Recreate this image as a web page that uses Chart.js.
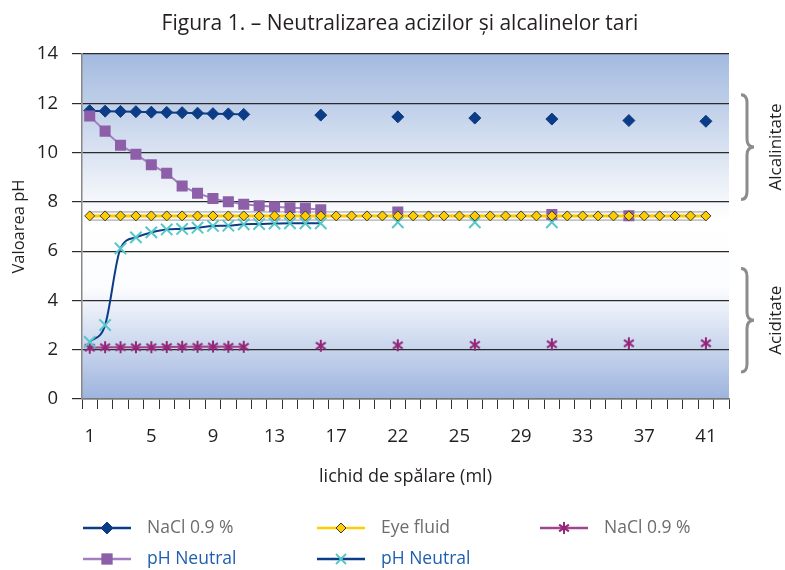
<!DOCTYPE html>
<html>
<head>
<meta charset="utf-8">
<script src="https://cdn.jsdelivr.net/npm/chart.js@4"></script>
<style>
  body { margin: 0; background: #fff; }
  #wrap { width: 785px; height: 570px; }
</style>
</head>
<body>
<div id="wrap"><canvas id="myChart"></canvas></div>
<script>
// 42 categories, only every 4th one gets a label
const categories = ["1","2","3","4","5","6","7","8","9","10","11","12","13","14","15","16","17","18","19","20","21",
  "22","23","24","25","26","27","28","29","30","31","32","33","34","35","36","37","38","39","40","41","42"];
const tickLabels = ["1", "5", "9", "13", "17", "22", "25", "29", "33", "37", "41"];

const naclDiamond = [11.7, 11.68, 11.67, 11.66, 11.64, 11.63, 11.62, 11.6, 11.58, 11.57, 11.55,
  null, null, null, null, 11.52, null, null, null, null, 11.45, null, null, null, null, 11.4,
  null, null, null, null, 11.36, null, null, null, null, 11.3, null, null, null, null, 11.27, null];

const eyeFluid = [7.43, 7.43, 7.43, 7.43, 7.43, 7.43, 7.43, 7.43, 7.43, 7.43, 7.43, 7.43, 7.43, 7.43,
  7.43, 7.43, 7.43, 7.43, 7.43, 7.43, 7.43, 7.43, 7.43, 7.43, 7.43, 7.43, 7.43, 7.43, 7.43, 7.43,
  7.43, 7.43, 7.43, 7.43, 7.43, 7.43, 7.43, 7.43, 7.43, 7.43, 7.43, null];

const naclStar = [2.08, 2.1, 2.1, 2.1, 2.1, 2.11, 2.12, 2.12, 2.13, 2.12, 2.12,
  null, null, null, null, 2.16, null, null, null, null, 2.18, null, null, null, null, 2.2,
  null, null, null, null, 2.22, null, null, null, null, 2.26, null, null, null, null, 2.26, null];

const phSquare = [11.48, 10.87, 10.3, 9.93, 9.51, 9.16, 8.64, 8.35, 8.14, 8.0, 7.9, 7.84, 7.8, 7.76, 7.74, 7.68,
  null, null, null, null, 7.59, null, null, null, null, null, null, null, null, null, 7.49,
  null, null, null, null, 7.44, null, null, null, null, null, null];

const phCross = [2.32, 3.0, 6.11, 6.56, 6.76, 6.88, 6.9, 6.95, 7.02, 7.03, 7.09, 7.1, 7.12, 7.13, 7.13, 7.13,
  null, null, null, null, 7.17, null, null, null, null, 7.17, null, null, null, null, 7.17,
  null, null, null, null, null, null, null, null, null, null, null];

const bands = [
  { label: "Alcalinitate", from: 12.35, to: 8.1 },
  { label: "Aciditate", from: 5.3, to: 1.1 },
];

const FONT = "'Open Sans', 'Noto Sans', sans-serif";
const TITLE = "Figura 1. – Neutralizarea acizilor și alcalinelor tari";
const ctx = document.getElementById("myChart");

// six-armed asterisk marker
function asterisk(size, color) {
  const c = document.createElement("canvas");
  c.width = size; c.height = size;
  const g = c.getContext("2d");
  const r = size / 2 - 1;
  g.strokeStyle = color;
  g.lineWidth = 2;
  g.translate(size / 2, size / 2);
  [90, 35, -35].forEach((deg) => {
    const a = deg * Math.PI / 180;
    g.beginPath();
    g.moveTo(-Math.cos(a) * r, -Math.sin(a) * r);
    g.lineTo(Math.cos(a) * r, Math.sin(a) * r);
    g.stroke();
  });
  return c;
}
const starMark = asterisk(14, "#93287a");

const plotBackground = {
  id: "plotBackground",
  beforeDraw(chart) {
    const { ctx, chartArea: a } = chart;
    const g = ctx.createLinearGradient(0, a.top, 0, a.bottom);
    g.addColorStop(0, "#a3badf");
    g.addColorStop(0.48, "#ffffff");
    g.addColorStop(0.68, "#fbfcfe");
    g.addColorStop(1, "#9db4de");
    ctx.save();
    ctx.fillStyle = g;
    ctx.fillRect(a.left, a.top, a.right - a.left, a.bottom - a.top);
    ctx.fillStyle = "#231f20";
    ctx.font = "21px " + FONT;
    ctx.textAlign = "center";
    ctx.textBaseline = "alphabetic";
    ctx.fillText(TITLE, 400, 30);
    ctx.restore();
  },
};

// grey band behind the yellow "Eye fluid" line
const eyeBand = {
  id: "eyeBand",
  beforeDatasetsDraw(chart) {
    const meta = chart.getDatasetMeta(1);
    const pts = meta.data.filter((p, i) => eyeFluid[i] !== null);
    if (!pts.length) return;
    const c = chart.ctx;
    c.save();
    c.lineCap = "butt";
    c.strokeStyle = "#c4c4c4";
    c.lineWidth = 10;
    c.beginPath();
    c.moveTo(pts[0].x, pts[0].y);
    c.lineTo(pts[pts.length - 1].x, pts[pts.length - 1].y);
    c.stroke();
    c.strokeStyle = "#f6f6f6";
    c.lineWidth = 6.5;
    c.stroke();
    c.restore();
  },
};

// curly braces and labels on the right
const sideBraces = {
  id: "sideBraces",
  afterDraw(chart) {
    const c = chart.ctx;
    const y = chart.scales.y;
    c.save();
    bands.forEach((b) => {
      const y0 = y.getPixelForValue(b.from);
      const y1 = y.getPixelForValue(b.to);
      const m = (y0 + y1) / 2;
      const x0 = 741, x1 = 747, x2 = 754;
      c.strokeStyle = "#8c8c8c";
      c.lineWidth = 3;
      c.beginPath();
      c.moveTo(x0, y0);
      c.quadraticCurveTo(x1, y0, x1, y0 + 8);
      c.lineTo(x1, m - 8);
      c.quadraticCurveTo(x1, m, x2, m);
      c.quadraticCurveTo(x1, m, x1, m + 8);
      c.lineTo(x1, y1 - 8);
      c.quadraticCurveTo(x1, y1, x0, y1);
      c.stroke();

      c.save();
      c.translate(776, m);
      c.rotate(-Math.PI / 2);
      c.fillStyle = "#231f20";
      c.font = "17px " + FONT;
      c.textAlign = "center";
      c.textBaseline = "middle";
      c.fillText(b.label, 0, 0);
      c.restore();
    });
    c.restore();
  },
};

// legend laid out in fixed columns like the original
const gridLegend = {
  id: "gridLegend",
  afterDraw(chart) {
    const c = chart.ctx;
    const cols = [83, 317, 540];
    const rows = [528, 559];
    const colors = ["#6d6d6d", "#1f5fae"];
    chart.data.datasets.forEach((ds, i) => {
      const r = i < 3 ? 0 : 1;
      const x = cols[r === 0 ? i : i - 3];
      const yy = rows[r];
      c.save();
      c.strokeStyle = ds.borderColor;
      c.lineWidth = 2.5;
      c.beginPath();
      c.moveTo(x, yy);
      c.lineTo(x + 48, yy);
      c.stroke();
      c.fillStyle = ds.pointBackgroundColor;
      c.strokeStyle = ds.pointBorderColor;
      c.lineWidth = ds.pointBorderWidth;
      Chart.helpers.drawPoint(c, {
        pointStyle: ds.pointStyle,
        radius: ds.legendRadius,
        rotation: 0,
        borderWidth: ds.pointBorderWidth,
      }, x + 24, yy);
      c.fillStyle = colors[r];
      c.font = "17.5px " + FONT;
      c.textBaseline = "middle";
      c.fillText(ds.label, x + 64, yy);
      c.restore();
    });
  },
};

new Chart(ctx, {
  type: "line",
  data: {
    labels: categories,
    datasets: [
      {
        label: "NaCl 0.9 %",
        data: naclDiamond,
        borderColor: "#0c3c85",
        borderWidth: 2,
        pointStyle: "rectRot",
        pointRadius: 6,
        legendRadius: 6,
        pointBackgroundColor: "#0c3c85",
        pointBorderColor: "#0c3c85",
        pointBorderWidth: 1,
        spanGaps: false,
        order: 3,
      },
      {
        label: "Eye fluid",
        data: eyeFluid,
        borderColor: "#ffcc00",
        borderWidth: 3,
        pointStyle: "rectRot",
        pointRadius: 5,
        legendRadius: 5,
        pointBackgroundColor: "#ffcc00",
        pointBorderColor: "#3a3a3a",
        pointBorderWidth: 1,
        order: 0,
      },
      {
        label: "NaCl 0.9 %",
        data: naclStar,
        borderColor: "#a0468a",
        borderWidth: 2,
        pointStyle: starMark,
        pointRadius: 7,
        legendRadius: 7,
        pointBackgroundColor: "#93287a",
        pointBorderColor: "#93287a",
        pointBorderWidth: 2,
        spanGaps: false,
        order: 3,
      },
      {
        label: "pH Neutral",
        data: phSquare,
        borderColor: "#a37fc2",
        borderWidth: 2,
        pointStyle: "rect",
        pointRadius: 7.8,
        legendRadius: 8,
        pointBackgroundColor: "#8c5fa8",
        pointBorderColor: "#8c5fa8",
        pointBorderWidth: 0,
        spanGaps: false,
        order: 1,
      },
      {
        label: "pH Neutral",
        data: phCross,
        borderColor: "#0c3c85",
        borderWidth: 2,
        cubicInterpolationMode: "monotone",
        pointStyle: "crossRot",
        pointRadius: 8,
        legendRadius: 7,
        pointBackgroundColor: "#55c7c9",
        pointBorderColor: "#55c7c9",
        pointBorderWidth: 2,
        spanGaps: false,
        order: 2,
      },
    ],
  },
  options: {
    responsive: true,
    maintainAspectRatio: false,
    animation: false,
    layout: { padding: { left: 0, right: 56, top: 54, bottom: 71 } },
    plugins: {
      legend: { display: false },
      tooltip: { enabled: false },
    },
    scales: {
      x: {
        offset: true,
        afterFit: (s) => { s.height = 100; },
        grid: {
          offset: true,
          drawOnChartArea: false,
          drawTicks: true,
          tickLength: 10,
          color: "#333",
        },
        border: { color: "#777", width: 1.5 },
        ticks: {
          autoSkip: false,
          maxRotation: 0,
          padding: 17,
          color: "#231f20",
          font: { family: FONT, size: 18.5 },
          callback: (v, i) => (i % 4 === 0 ? tickLabels[i / 4] : ""),
        },
        title: {
          display: true,
          text: "lichid de spălare (ml)",
          color: "#231f20",
          font: { family: FONT, size: 18 },
          padding: { top: 0, bottom: 11 },
        },
      },
      y: {
        min: 0,
        max: 14,
        afterFit: (s) => { s.width = 82; },
        grid: { color: "#2b2b2b", lineWidth: 1.2, tickLength: 10 },
        border: { color: "#888", width: 1.5 },
        ticks: {
          stepSize: 2,
          padding: 14,
          color: "#231f20",
          font: { family: FONT, size: 18.5 },
        },
        title: {
          display: true,
          text: "Valoarea pH",
          color: "#231f20",
          font: { family: FONT, size: 16.5 },
          padding: { top: 9, bottom: 0 },
        },
      },
    },
  },
  plugins: [plotBackground, eyeBand, sideBraces, gridLegend],
});
</script>
</body>
</html>
